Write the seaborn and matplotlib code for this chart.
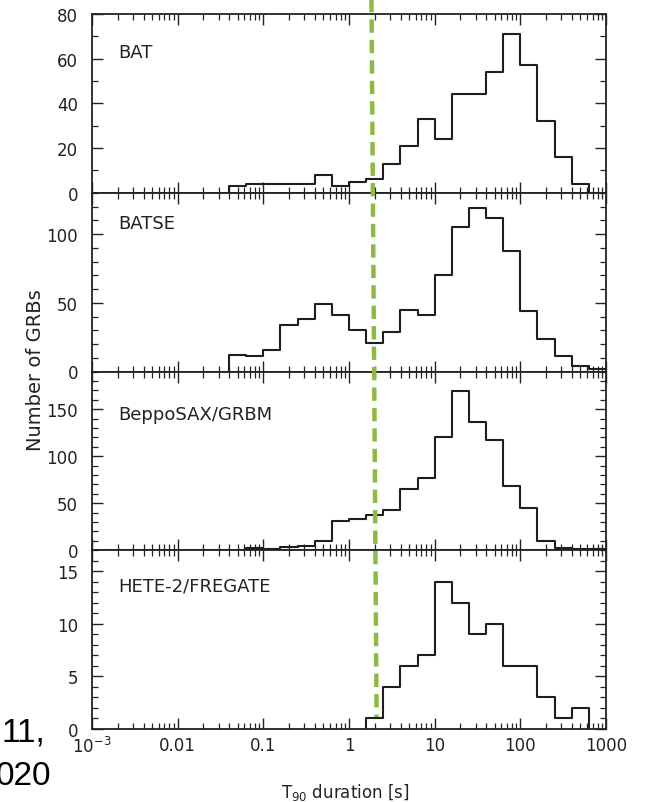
import numpy as np
import pandas as pd
import matplotlib
matplotlib.use('Agg')
import matplotlib.pyplot as plt
import matplotlib.ticker as mticker
from matplotlib import font_manager
from matplotlib.lines import Line2D
from matplotlib.transforms import blended_transform_factory
import seaborn as sns

# 히스토그램 데이터 (log10 T90 기준, 0.2 dex 간격의 빈)
bin_width = 0.2
bat_start = -1.4
bat_counts = [3, 4, 4, 4, 4, 8, 3, 5, 6, 13, 21, 33, 24, 44, 44, 54, 71, 57, 32, 16, 4]
batse_start = -1.4
batse_counts = [12, 11, 16, 34, 38, 49, 41, 30, 21, 29, 45, 41, 70, 105, 119, 112, 88, 44, 24, 11, 4, 2]
sax_start = -1.2
sax_counts = [2, 1, 3, 5, 10, 31, 33, 37, 43, 65, 77, 120, 169, 136, 117, 68, 45, 10, 2, 1, 1]
hete_start = 0.2
hete_counts = [1, 4, 6, 7, 14, 12, 9, 10, 6, 6, 3, 1, 2]

panel_names = ['BAT', 'BATSE', 'BeppoSAX/GRBM', 'HETE-2/FREGATE']
panel_ymax = [80, 130, 190, 17]
panel_major = [20, 50, 50, 5]
panel_minor = [10, 10, 10, 1]

x_ticks = [1e-3, 1e-2, 1e-1, 1, 10, 100, 1000]
x_ticklabels = ['$10^{-3}$', '0.01', '0.1', '1', '10', '100', '1000']

# 짧은/긴 GRB 구분선 (위 -> 아래, 약간 기울어짐)
cut_x = [1.83, 2.1]

sns.set_style('ticks')
plt.rcParams['font.family'] = ['DejaVu Sans']

names_avail = {f.name for f in font_manager.fontManager.ttflist}
label_font = 'Liberation Sans Narrow' if 'Liberation Sans Narrow' in names_avail else 'DejaVu Sans'
label_size = 14 if label_font == 'Liberation Sans Narrow' else 13


def step_frame(start, counts):
    edges = 10 ** (start + bin_width * np.arange(len(counts) + 1))
    x = np.concatenate([[edges[0]], edges])
    y = np.concatenate([[0], counts, [0]])
    return pd.DataFrame({'T90': x, 'N': y})


datasets = [
    step_frame(bat_start, bat_counts),
    step_frame(batse_start, batse_counts),
    step_frame(sax_start, sax_counts),
    step_frame(hete_start, hete_counts),
]

fig, axes = plt.subplots(4, 1, sharex=True, figsize=(6.51, 8.03), dpi=100)
fig.subplots_adjust(left=92 / 651, right=606 / 651, top=1 - 15 / 803,
                    bottom=1 - 730 / 803, hspace=0)

label_y = [0.79, 0.83, 0.76, 0.80]

for ax, df, name, ymax, maj, mnr, ly in zip(axes, datasets, panel_names, panel_ymax,
                                            panel_major, panel_minor, label_y):
    sns.lineplot(data=df, x='T90', y='N', ax=ax, drawstyle='steps-post',
                 estimator=None, sort=False, color='#1e1e1e', lw=1.5)
    ax.set_xscale('log')
    ax.set_xlim(1e-3, 1e3)
    ax.set_ylim(0, ymax)
    ax.yaxis.set_major_locator(mticker.MultipleLocator(maj))
    ax.yaxis.set_minor_locator(mticker.MultipleLocator(mnr))
    ax.xaxis.set_major_locator(mticker.FixedLocator(x_ticks))
    ax.xaxis.set_minor_locator(mticker.LogLocator(base=10, subs=np.arange(2, 10)))
    ax.xaxis.set_minor_formatter(mticker.NullFormatter())
    ax.tick_params(which='both', direction='in', top=True, right=True,
                   labelsize=12, colors='#222222')
    ax.tick_params(which='major', length=8, width=1.0)
    ax.tick_params(which='minor', length=4.5, width=0.9)
    ax.tick_params(axis='y', pad=10)
    ax.tick_params(axis='x', pad=5)
    for sp in ax.spines.values():
        sp.set_linewidth(1.3)
        sp.set_color('#222222')
    ax.set_xlabel('')
    ax.set_ylabel('')
    ax.text(0.052, ly, name, transform=ax.transAxes, va='center', ha='left',
            fontsize=label_size, family=label_font, color='#222222')

axes[-1].xaxis.set_major_formatter(mticker.FixedFormatter(x_ticklabels))

fig.text(36 / 651, 1 - 370 / 803, 'Number of GRBs', rotation=90,
         va='center', ha='center', fontsize=14, color='#222222')
fig.text(345 / 651, 1 - 793 / 803, r'T$_{90}$ duration [s]',
         va='center', ha='center', fontsize=12, color='#222222')

# 구분선 (그림 맨 위에서 마지막 패널 안쪽까지)
trans = blended_transform_factory(axes[-1].transData, fig.transFigure)
cut_line = Line2D(cut_x, [1.0, 1 - 718 / 803], transform=trans, color='#8DBA45',
                  lw=3.2, dashes=(3.0, 1.6), solid_capstyle='butt')
fig.add_artist(cut_line)

# 잘린 캡션 조각
fig.text(45 / 651, 1 - 742 / 803, '11,', ha='right', va='baseline',
         fontsize=24, family='Liberation Sans', color='black')
fig.text(51 / 651, 1 - 785 / 803, '020', ha='right', va='baseline',
         fontsize=24, family='Liberation Sans', color='black')

fig.savefig('out.png', dpi=100)
